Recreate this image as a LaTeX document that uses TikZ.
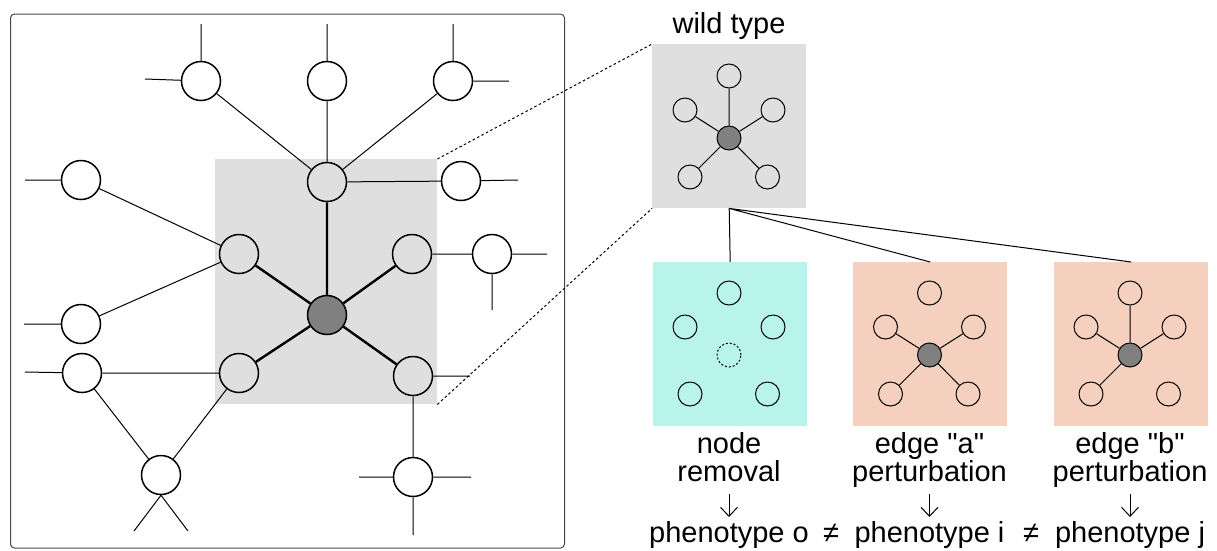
\documentclass[tikz,border=0pt]{standalone}
\usepackage{fontspec}
\setmainfont{Liberation Sans}
\usetikzlibrary{arrows.meta}

\definecolor{panelgray}{RGB}{223,223,223}
\definecolor{hubgray}{RGB}{128,128,128}
\definecolor{mint}{RGB}{184,244,236}
\definecolor{salmon}{RGB}{245,208,190}
\definecolor{framegray}{RGB}{70,70,70}

% five satellites around a hub, placed relative to the hub centre
\newcommand\starnet[3]{%
  \begin{scope}[shift={#2}]
    \node[#3] (#1c) at (0,0) {};
    \node[satnode] (#1t) at (0,-62) {};
    \node[satnode] (#1ul) at (-44,-28) {};
    \node[satnode] (#1ur) at (44,-28) {};
    \node[satnode] (#1ll) at (-39,39) {};
    \node[satnode] (#1lr) at (38.5,39) {};
  \end{scope}}

\begin{document}
\begin{tikzpicture}[x=1pt,y=-1pt,
  bignode/.style={circle, draw, line width=1.5pt, minimum size=39pt, inner sep=0pt, fill=white},
  innode/.style={bignode, fill=panelgray},
  hubnode/.style={bignode, fill=hubgray},
  link/.style={line width=1pt},
  spoke/.style={line width=2.4pt},
  satnode/.style={circle, draw, line width=1pt, minimum size=24pt, inner sep=0pt},
  smallhub/.style={satnode, fill=hubgray},
  ghostnode/.style={satnode, dash pattern=on 2pt off 2pt},
  smalllink/.style={line width=1pt},
  panel/.style={inner sep=0pt, minimum width=154pt, minimum height=164pt, anchor=north west},
  lbl/.style={font=\fontsize{29}{28}\selectfont, inner sep=0pt, anchor=base},
  arr/.style={line width=1pt, -{Straight Barb[length=9pt,width=17pt]}},
]
\useasboundingbox (0,0) rectangle (1217,550);

% ---------- left: the full network ----------
\draw[framegray, line width=1pt, rounded corners=4pt] (10.5,14) rectangle (564.5,548);
\node[fill=panelgray, inner sep=0pt, minimum width=222pt, minimum height=245pt, anchor=north west] (zoom) at (215,159) {};

\node[bignode] (t1) at (201,81) {};
\node[bignode] (t2) at (327,81) {};
\node[bignode] (t3) at (453,81) {};
\node[bignode] (l1) at (81,180) {};
\node[innode]  (c2) at (327,182) {};
\node[bignode] (r2) at (461,181) {};
\node[innode]  (g1) at (239,254) {};
\node[innode]  (g2) at (412,254) {};
\node[bignode] (r3) at (492,254) {};
\node[hubnode] (dk) at (327,315) {};
\node[bignode] (l2) at (81,324) {};
\node[bignode] (l3) at (82,373) {};
\node[innode]  (g3) at (239,373) {};
\node[innode]  (g4) at (413,376) {};
\node[bignode] (b1) at (161,475) {};
\node[bignode] (b2) at (413,477) {};

% loose ends leaving the drawn part of the network
\coordinate (t1u) at (201,24);  \coordinate (t1w) at (145,79);
\coordinate (t2u) at (327,24);
\coordinate (t3u) at (453,24);  \coordinate (t3e) at (509,81);
\coordinate (l1w) at (25,180);
\coordinate (r2e) at (518,180);
\coordinate (r3e) at (547,254); \coordinate (r3d) at (492,310);
\coordinate (l2w) at (24,324);
\coordinate (l3w) at (25,372);
\coordinate (g4e) at (470,376);
\coordinate (b1a) at (134,531); \coordinate (b1b) at (188,531);
\coordinate (b2w) at (359,477); \coordinate (b2e) at (471,477); \coordinate (b2d) at (413,535);

\draw[link] (t1) -- (t1u) (t1) -- (t1w) (t2) -- (t2u) (t3) -- (t3u) (t3) -- (t3e)
  (l1) -- (l1w) (r2) -- (r2e) (r3) -- (r3e) (r3) -- (r3d) (l2) -- (l2w) (l3) -- (l3w)
  (g4) -- (g4e) (b1.south) -- (b1a) (b1.south) -- (b1b)
  (b2) -- (b2w) (b2) -- (b2e) (b2) -- (b2d);

\draw[link] (t1) -- (c2) (t2) -- (c2) (t3) -- (c2) (c2) -- (r2)
  (l1) -- (g1) (l2) -- (g1) (l3) -- (g3) (l3) -- (b1) (g3) -- (b1)
  (g2) -- (r3) (g4) -- (b2);

\draw[spoke] (dk) -- (c2) (dk) -- (g1) (dk) -- (g2) (dk) -- (g3) (dk) -- (g4);

% ---------- right: wild type and its perturbations ----------
\node[panel, fill=panelgray] (wt) at (652,44) {};
\node[panel, fill=mint]   (rm) at (653,262) {};
\node[panel, fill=salmon] (ea) at (853,262) {};
\node[panel, fill=salmon] (eb) at (1054,262) {};

\draw[line width=1pt, dash pattern=on 2.5pt off 2.5pt] (zoom.north east) -- (wt.north west)
  (zoom.south east) -- (wt.south west);
\draw[link] (wt.south) -- (rm.north) (wt.south) -- (ea.north) (wt.south) -- (eb.north);

\starnet{w}{(729,138)}{smallhub}
\draw[smalllink] (wc) -- (wt) (wc) -- (wul) (wc) -- (wur) (wc) -- (wll) (wc) -- (wlr);

\starnet{m}{(729,355)}{ghostnode}

\starnet{a}{(929.5,355)}{smallhub}
\draw[smalllink] (ac) -- (aul) (ac) -- (aur) (ac) -- (all) (ac) -- (alr);

\starnet{b}{(1130,355)}{smallhub}
\draw[smalllink] (bc) -- (bt) (bc) -- (bul) (bc) -- (bur) (bc) -- (bll);

% ---------- labels ----------
\node[lbl] (wtl) at (729,33) {wild type};

\node[lbl] (rm1) at (729,453) {node};
\node[lbl] (rm2) at (729,481) {removal};
\node[lbl] (ea1) at (929.5,453) {edge \textquotedbl a\textquotedbl};
\node[lbl] (ea2) at (929.5,481) {perturbation};
\node[lbl] (eb1) at (1130,453) {edge \textquotedbl b\textquotedbl};
\node[lbl] (eb2) at (1130,481) {perturbation};

\node[lbl] (po) at (729,542) {phenotype o};
\node[lbl] (ne1) at (831,542) {≠};
\node[lbl] (pi) at (929.5,542) {phenotype i};
\node[lbl] (ne2) at (1031,542) {≠};
\node[lbl] (pj) at (1130,542) {phenotype j};

\coordinate (rma) at (729,494);    \coordinate (rmb) at (729,517);
\coordinate (eaa) at (929.5,494);  \coordinate (eab) at (929.5,517);
\coordinate (eba) at (1130,494);   \coordinate (ebb) at (1130,517);
\draw[arr] (rma) -- (rmb);
\draw[arr] (eaa) -- (eab);
\draw[arr] (eba) -- (ebb);
\end{tikzpicture}
\end{document}
